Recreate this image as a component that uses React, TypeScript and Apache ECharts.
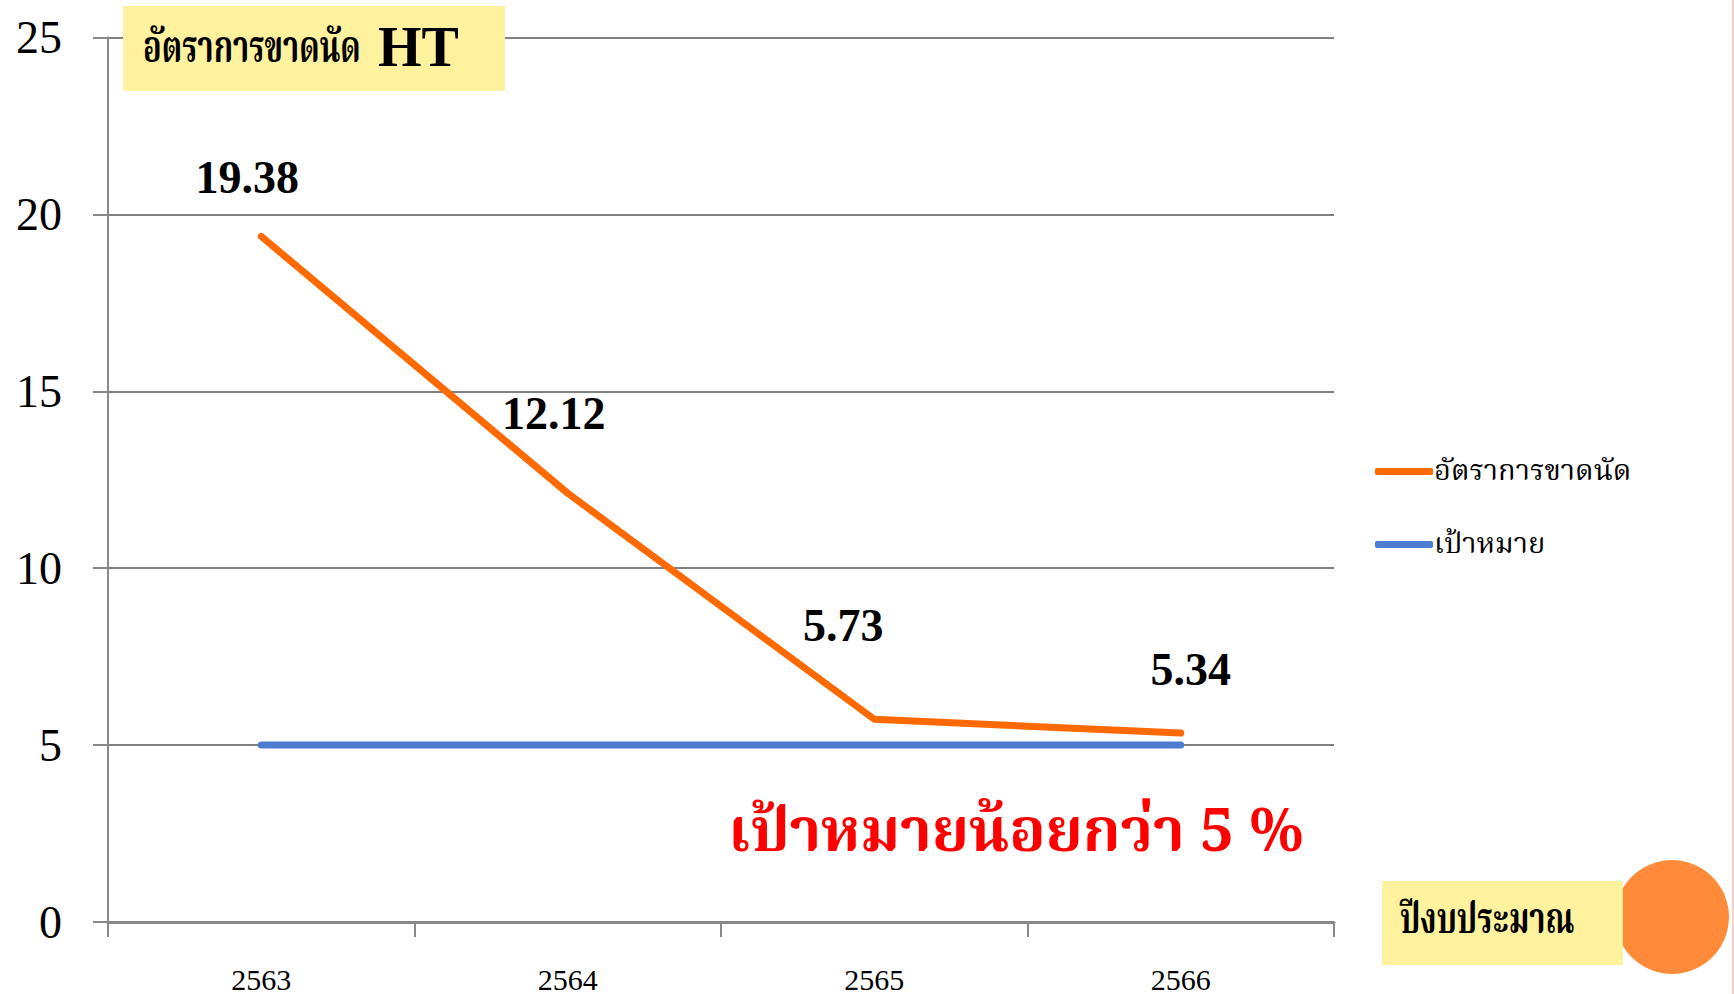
import React, { useEffect, useRef } from "react";
import * as echarts from "echarts";

const categories = ["2563", "2564", "2565", "2566"];
const missRate = [19.38, 12.12, 5.73, 5.34];
const target = [5, 5, 5, 5];
const yTicks = { min: 0, max: 25, interval: 5 };
const seriesNames = ["อัตราการขาดนัด", "เป้าหมาย"];
const labelOffsets = [[-14, -36], [-14, -57], [-31, -71], [10, -41]];

const THAI = "'Noto Serif Thai','Noto Sans Thai','Norasi','Loma','Garuda','Liberation Serif',serif";
const SERIF = "'Liberation Serif','DejaVu Serif',serif";

export default function App() {
  const ref = useRef<HTMLDivElement>(null);
  useEffect(() => {
    const chart = echarts.init(ref.current!, null, { renderer: "svg" });
    chart.setOption({
      animation: false,
      backgroundColor: "#ffffff",
      grid: { left: 108, right: 400, top: 37.6, bottom: 70.6 },
      legend: {
        orient: "vertical",
        left: 1370,
        top: 452,
        itemWidth: 58,
        itemHeight: 7,
        itemGap: 44,
        icon: "roundRect",
        data: seriesNames,
        textStyle: { fontFamily: THAI, fontSize: 29, color: "#000", padding: [0, 0, 0, -4] },
      },
      xAxis: {
        type: "category",
        data: categories,
        boundaryGap: true,
        axisLine: { lineStyle: { color: "#888", width: 3 } },
        axisTick: { show: true, length: 15, lineStyle: { color: "#888", width: 2 } },
        axisLabel: { fontFamily: SERIF, fontSize: 30, color: "#000", margin: 42 },
        splitLine: { show: false },
      },
      yAxis: {
        type: "value",
        min: yTicks.min,
        max: yTicks.max,
        interval: yTicks.interval,
        axisLine: { show: true, lineStyle: { color: "#888", width: 2 } },
        axisTick: { show: true, length: 15, lineStyle: { color: "#888", width: 2 } },
        axisLabel: { fontFamily: SERIF, fontSize: 46, color: "#000", margin: 46 },
        splitLine: { lineStyle: { color: "#808080", width: 2 } },
      },
      series: [
        {
          name: seriesNames[0],
          type: "line",
          data: missRate.map((v, i) => ({
            value: v,
            label: { offset: labelOffsets[i] },
          })),
          symbol: "circle",
          symbolSize: 0.1,
          showSymbol: true,
          color: "#FF6A00",
          lineStyle: { width: 7, color: "#FF6A00", cap: "round" },
          z: 3,
          label: {
            show: true,
            position: "top",
            distance: 0,
            fontFamily: SERIF,
            fontWeight: "bold",
            fontSize: 46,
            color: "#000",
          },
        },
        {
          name: seriesNames[1],
          type: "line",
          data: target,
          symbol: "none",
          color: "#4D7DD1",
          lineStyle: { width: 7, color: "#4D7DD1", cap: "round" },
          z: 2,
        },
      ],
      graphic: [
        {
          type: "rect",
          shape: { x: 123, y: 6, width: 382, height: 85 },
          style: { fill: "#FFF29E" },
          z: 10,
        },
        {
          type: "text",
          x: 143,
          y: 50,
          scaleX: 0.7,
          z: 11,
          style: {
            text: "อัตราการขาดนัด",
            fontFamily: THAI,
            fontSize: 44,
            fontWeight: "bold",
            fill: "#000",
            verticalAlign: "middle",
          },
        },
        {
          type: "text",
          x: 378,
          y: 47,
          z: 11,
          style: {
            text: "HT",
            fontFamily: SERIF,
            fontSize: 56,
            fontWeight: "bold",
            fill: "#000",
            verticalAlign: "middle",
          },
        },
        {
          type: "text",
          x: 1016,
          y: 835,
          z: 11,
          style: {
            text: "เป้าหมายน้อยกว่า 5 %",
            fontFamily: THAI,
            fontSize: 60,
            fontWeight: "bold",
            fill: "#FF0000",
            align: "center",
            verticalAlign: "middle",
          },
        },
        {
          type: "circle",
          shape: { cx: 1672, cy: 917, r: 57 },
          style: { fill: "#FF8A3A" },
          z: 10,
        },
        {
          type: "rect",
          shape: { x: 1382, y: 881, width: 241, height: 84 },
          style: { fill: "#FFF29E" },
          z: 11,
        },
        {
          type: "text",
          x: 1400,
          y: 922,
          scaleX: 0.72,
          z: 12,
          style: {
            text: "ปีงบประมาณ",
            fontFamily: THAI,
            fontSize: 43,
            fontWeight: "bold",
            fill: "#000",
            verticalAlign: "middle",
          },
        },
        {
          type: "line",
          shape: { x1: 1733, y1: 0, x2: 1733, y2: 994 },
          style: { stroke: "#F4C2B4", lineWidth: 1.5 },
          z: 10,
        },
      ],
    });
    return () => chart.dispose();
  }, []);
  return (
    <div
      ref={ref}
      style={{ position: "fixed", left: 0, top: 0, width: 1734, height: 994 }}
    />
  );
}
